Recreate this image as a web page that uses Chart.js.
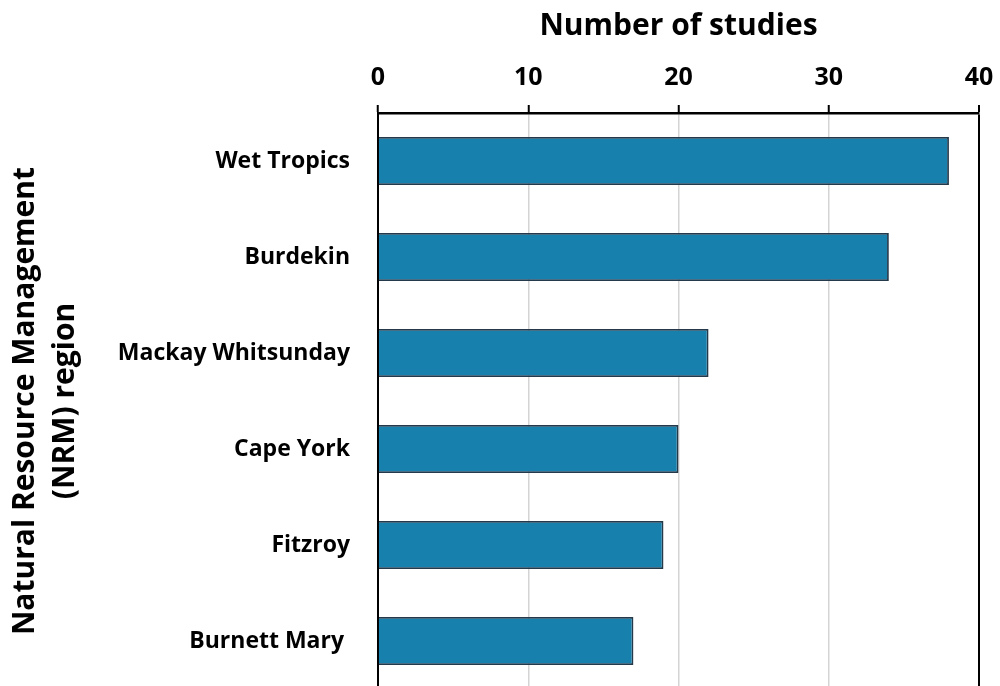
<!DOCTYPE html>
<html>
<head>
<meta charset="utf-8">
<script src="https://cdn.jsdelivr.net/npm/chart.js@4.4.1/dist/chart.umd.min.js"></script>
<style>
  html, body { margin: 0; padding: 0; background: #fff; overflow: hidden; }
  #wrap { position: absolute; left: 0; top: 0; width: 1000px; height: 690px; }
</style>
</head>
<body>
<div id="wrap"><canvas id="c" width="1000" height="690"></canvas></div>
<script>
// NRM regions and the number of studies in each
const regions = ["Wet Tropics", "Burdekin", "Mackay Whitsunday", "Cape York", "Fitzroy", "Burnett Mary "];
const studies = [38, 34, 22, 20, 19, 17];
const xTicks = [0, 10, 20, 30, 40];

const FONT = "'Open Sans', 'Noto Sans', sans-serif";

new Chart(document.getElementById("c"), {
  type: "bar",
  data: {
    labels: regions,
    datasets: [{
      data: studies,
      backgroundColor: "#1880AC",
      borderColor: "#24394a",
      borderWidth: 1.8,
      barPercentage: 0.5,
      categoryPercentage: 1.0
    }]
  },
  options: {
    indexAxis: "y",
    responsive: false,
    animation: false,
    devicePixelRatio: 1,
    layout: { padding: { left: 0, right: 21, top: 0, bottom: 1 } },
    plugins: { legend: { display: false }, tooltip: { enabled: false } },
    scales: {
      x: {
        position: "top",
        min: 0,
        max: 40,
        afterBuildTicks: (s) => { s.ticks = xTicks.map(v => ({ value: v })); },
        afterFit: (s) => { s.height = 113; s.paddingLeft = 0; s.paddingRight = 0; },
        ticks: {
          color: "#000",
          font: { family: FONT, size: 25, weight: "bold" },
          padding: 12
        },
        grid: {
          color: (ctx) => (ctx.tick && (ctx.tick.value === 40 || ctx.tick.value === 0)) ? "#000" : "#d4d4d4",
          lineWidth: (ctx) => (ctx.tick && ctx.tick.value === 40) ? 2 : 1.5,
          tickColor: "#000",
          tickWidth: 2,
          tickLength: 8
        },
        border: { display: true, color: "#000", width: 2.5 },
        title: {
          display: true,
          text: "Number of studies",
          color: "#000",
          font: { family: FONT, size: 30, weight: "bold" },
          padding: { top: 8, bottom: 0 }
        }
      },
      y: {
        afterFit: (s) => { s.width = 378; s.paddingTop = 0; s.paddingBottom = 0; },
        ticks: {
          color: "#000",
          font: { family: FONT, size: 23, weight: "bold" },
          padding: 28
        },
        grid: { display: false, drawTicks: false, tickLength: 0 },
        border: { display: true, color: "#000", width: 2 },
        title: {
          display: true,
          text: ["Natural Resource Management", "(NRM) region"],
          color: "#000",
          font: { family: FONT, size: 30, weight: "bold", lineHeight: 1.35 },
          padding: { top: 5, bottom: 0 }
        }
      }
    }
  }
});
</script>
</body>
</html>
